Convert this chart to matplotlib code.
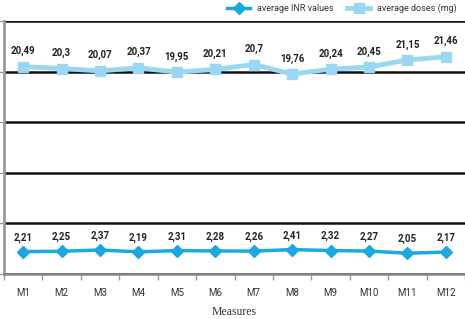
import numpy as np
import matplotlib.pyplot as plt

measures = ['M1', 'M2', 'M3', 'M4', 'M5', 'M6', 'M7', 'M8', 'M9', 'M10', 'M11', 'M12']
inr = [2.21, 2.25, 2.37, 2.19, 2.31, 2.28, 2.26, 2.41, 2.32, 2.27, 2.05, 2.17]
doses = [20.49, 20.3, 20.07, 20.37, 19.95, 20.21, 20.7, 19.76, 20.24, 20.45, 21.15, 21.46]

c_inr = '#1ba8e0'
c_dose = '#9ad7f2'
narrow = ['Liberation Sans Narrow', 'Roboto']

fig = plt.figure(figsize=(4.65, 3.19), dpi=100)
ax = fig.add_axes([4 / 465, 45 / 319, 461 / 465, 253 / 319])

x = np.arange(len(measures))
ax.plot(x, inr, color=c_inr, lw=2.5, marker='D', ms=6.5, label='average INR values')
ax.plot(x, doses, color=c_dose, lw=3.5, marker='s', ms=7.5, label='average doses (mg)')

for xi, v in zip(x, inr):
    ax.annotate(f'{v:g}'.replace('.', ','), (xi, v), xytext=(0, 6.5), textcoords='offset points',
                ha='center', va='bottom', fontsize=7, fontweight='bold', color='#222222',
                family=narrow)
for xi, v in zip(x, doses):
    ax.annotate(f'{v:g}'.replace('.', ','), (xi, v), xytext=(0, 7.5), textcoords='offset points',
                ha='center', va='bottom', fontsize=7, fontweight='bold', color='#222222',
                family=narrow)

ax.set_ylim(0, 25)
ax.set_xlim(-0.5, len(measures) - 0.5)
ax.set_yticks([0, 5, 10, 15, 20, 25])
ax.yaxis.grid(True, color='#111111', lw=1.8)
ax.set_axisbelow(True)
ax.tick_params(axis='y', length=4, color='#999999', labelleft=False, width=1)
ax.set_xticks(x)
ax.set_xticklabels(measures, fontsize=7, color='#333333', family=narrow)
ax.set_xticks(np.arange(-0.5, len(measures)), minor=True)
ax.tick_params(axis='x', which='major', length=0, pad=10)
ax.tick_params(axis='x', which='minor', length=4, color='#999999', width=1)
for s in ['top', 'right']:
    ax.spines[s].set_visible(False)
ax.spines['left'].set_color('#999999')
ax.spines['left'].set_linewidth(2)
ax.spines['bottom'].set_color('#888888')
ax.spines['bottom'].set_linewidth(1.8)
ax.set_xlabel('Measures', family='Liberation Serif', fontsize=8.5, color='#333333', labelpad=6)

ax.legend(loc='lower right', bbox_to_anchor=(1.0, 1.0), ncol=2, frameon=False,
          prop={'family': narrow, 'size': 6.5},
          handlelength=2.5, columnspacing=1.5, borderaxespad=0.5, labelcolor='#333333')

fig.savefig('out.png', dpi=100)
